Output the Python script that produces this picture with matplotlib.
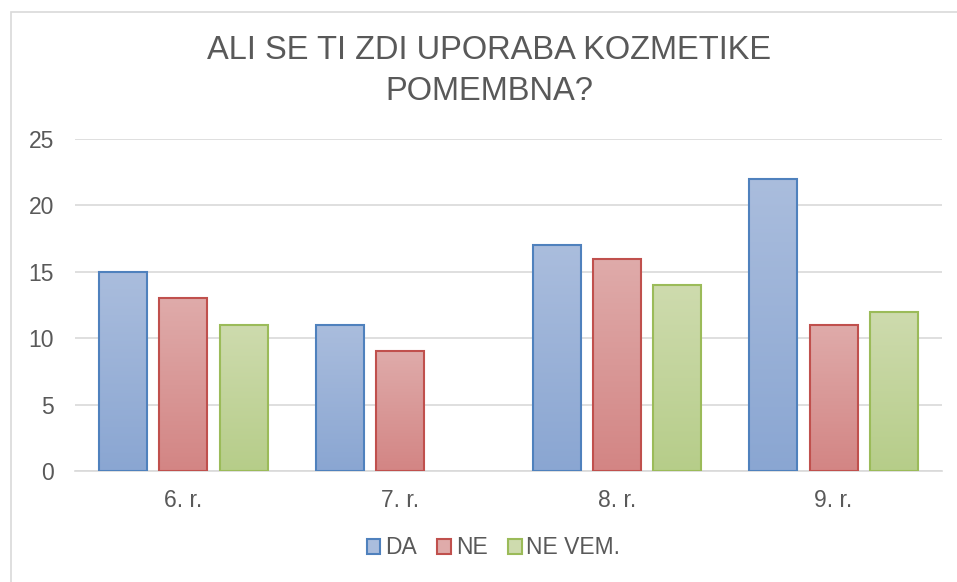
import numpy as np
import matplotlib
matplotlib.use("Agg")
import matplotlib.pyplot as plt
from matplotlib.patches import Rectangle, Patch
from matplotlib.colors import LinearSegmentedColormap

categories = ["6. r.", "7. r.", "8. r.", "9. r."]
series_names = ["DA", "NE", "NE VEM."]
da = [15, 11, 17, 22]
ne = [13, 9, 16, 11]
ne_vem = [11, 0, 14, 12]
yticks = [0, 5, 10, 15, 20, 25]

edge_colors = ["#4F81BD", "#C0504D", "#9BBB59"]
top_colors = ["#AABDDD", "#DFABAA", "#CEDBAE"]
bot_colors = ["#8AA6D2", "#D38584", "#B6CD89"]

plt.rcParams['font.family'] = ['Liberation Sans', 'DejaVu Sans']
grey = "#595959"

fig = plt.figure(figsize=(9.57, 5.82), dpi=100)
fig.patches.append(Rectangle((11/957, -0.1), 2, 1 - 12/582 + 0.1, transform=fig.transFigure,
                             fill=False, edgecolor="#D9D9D9", linewidth=1.2))
ax = fig.add_axes([75/957, 1 - 471/582, (942 - 75)/957, (471 - 139)/582])

x = np.arange(len(categories))
bw = 0.222
step = 0.278
data = [da, ne, ne_vem]
for i, vals in enumerate(data):
    bars = ax.bar(x + (i - 1) * step, vals, width=bw, color="none",
                  edgecolor=edge_colors[i], linewidth=1.5, zorder=3, label=series_names[i])
    cmap = LinearSegmentedColormap.from_list("g%d" % i, [bot_colors[i], top_colors[i]])
    grad = np.linspace(0, 1, 256).reshape(-1, 1)
    for b in bars:
        h = b.get_height()
        if h <= 0:
            b.set_visible(False)
            continue
        x0 = b.get_x()
        ax.imshow(grad, cmap=cmap, origin="lower", aspect="auto",
                  extent=[x0, x0 + b.get_width(), 0, h], zorder=2, interpolation="bilinear")

ax.set_xlim(-0.5, len(categories) - 0.5)
ax.set_ylim(0, 25)
ax.set_yticks(yticks)
ax.set_xticks(x)
ax.set_xticklabels(categories)
ax.grid(axis="y", color="#D9D9D9", linewidth=1.2, zorder=0)
ax.set_axisbelow(True)
for s in ["top", "right", "left"]:
    ax.spines[s].set_visible(False)
ax.spines["bottom"].set_color("#D9D9D9")
ax.spines["bottom"].set_linewidth(1.2)
ax.tick_params(axis="both", length=0, labelsize=16.5, labelcolor=grey)
ax.tick_params(axis="y", pad=15)
ax.tick_params(axis="x", pad=13)

fig.text(489/957, 1 - 71/582, "ALI SE TI ZDI UPORABA KOZMETIKE\nPOMEMBNA?", ha="center", va="center",
         fontsize=23.5, color=grey, linespacing=1.38)

handles = [Patch(facecolor=top_colors[i], edgecolor=edge_colors[i], linewidth=1.5) for i in range(3)]
fig.legend(handles, series_names, loc="center", bbox_to_anchor=(493.5/957, 1 - 548/582), ncol=3,
           frameon=False, fontsize=16.5, labelcolor=grey, handlelength=0.6, handleheight=0.6,
           handletextpad=0.2, columnspacing=0.9)

fig.savefig("out.png", dpi=100)
